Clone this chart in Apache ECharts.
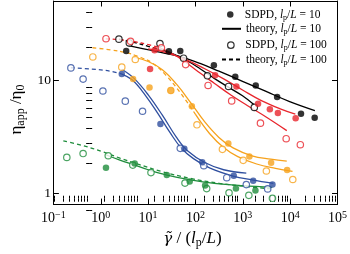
<!DOCTYPE html>
<html><head><meta charset="utf-8">
<script src="https://cdn.jsdelivr.net/npm/echarts@6/dist/echarts.min.js"></script>
<style>html,body{margin:0;padding:0;background:#fff}#c{width:350px;height:254px}</style>
</head><body><div id="c"></div>
<script>
const FONT = '"Liberation Serif","Times New Roman",serif';
const COLORS = {black:'#000000', red:'#e8262d', orange:'#f6a21d', blue:'#2f4f9f', green:'#1f8d3c'};

// SDPD, lp/L = 10 (filled circles) [shear rate, eta_app/eta_0]
const blackFilled  = [[3.45,18.05],[27.5,17.94],[47.8,18.05],[245,13.5],[693,10.7],[1875,8.96],[5311,7.07],[16950,5.04],[32960,4.64]];
const redFilled    = [[11.0,12.5],[13.7,18.3],[260,11.0],[733,8.78],[2100,6.17],[3730,5.53],[5510,5.12],[13060,4.59]];
const orangeFilled = [[4.82,10.2],[10.7,8.61],[30.2,8.09],[84,5.88],[495,2.75],[1378,2.11],[3963,1.855],[8636,1.60]];
const blueFilled   = [[2.78,11.3],[18.2,4.08],[58.2,2.47],[139,1.88],[644,1.425],[1656,1.29],[4227,1.19]];
const greenFilled  = [[1.29,1.68],[5.21,1.83],[24.8,1.445],[75.5,1.27],[160,1.17],[716,1.097],[1849,1.055]];

// SDPD, lp/L = 100 (open circles)
const blackOpen  = [[2.42,23.0],[4.01,21.3],[17.8,21.0],[56.1,15.6],[179,10.9],[500,8.78],[1750,5.73]];
const redOpen    = [[1.29,23.2],[4.26,22.0],[19.1,19.3],[62.1,13.7],[185,8.96],[582,6.54],[2360,4.16],[8245,3.03],[16410,2.68]];
const orangeOpen = [[0.68,16.0],[2.78,13.0],[5.36,15.2],[30.2,8.09],[107.6,4.02],[371,2.44],[1019,1.95],[3148,1.57],[11370,1.32]];
const blueOpen   = [[0.234,12.8],[0.424,10.2],[1.11,8.0],[3.30,6.51],[7.63,5.30],[47.8,2.49],[150,1.75],[458,1.37],[1186,1.19],[3357,1.09]];
const greenOpen  = [[0.192,2.07],[0.424,2.24],[1.44,2.14],[4.75,1.77],[11.5,1.52],[60.1,1.227],[172.6,1.097],[512,1.008],[1341,0.956],[4227,0.90]];

// theory, lp/L = 10 (solid)
const blackTheory10  = [[3.66,20.3],[9.16,18.66],[22.9,17.25],[50.0,16.04],[125.2,14.03],[313,11.98],[986,9.75],[3105,7.93],[9772,6.45],[33270,5.37]];
const redTheory10    = [[10.05,18.85],[25.1,17.42],[62.9,15.18],[157.5,12.59],[394,10.24],[986,8.17],[2469,6.58],[6178,5.56],[12870,4.99]];
const orangeTheory10 = [[5.05,15.85],[10.05,14.59],[20.0,12.35],[39.8,9.19],[79.1,6.32],[157.5,4.26],[313,3.11],[623,2.51],[1561,2.14],[3905,2.00],[8480,1.92]];
const blueTheory10   = [[2.78,12.46],[5.05,10.34],[10.05,7.40],[20.0,4.89],[39.8,3.11],[68.9,2.36],[157.5,1.866],[394,1.61],[1185,1.503]];
const greenTheory10  = [[1.275,2.185],[2.537,1.96],[5.05,1.776],[10.05,1.61],[25.1,1.445],[79.1,1.31],[249,1.222],[986,1.164],[4183,1.125]];

// theory, lp/L = 100 (dashed part, then solid part)
const blackTheory100Dash   = [[2.42,22.95],[5.05,21.5],[10.05,19.87],[15.9,18.85]];
const blackTheory100Solid  = [[15.9,18.85],[31.6,17.25],[62.9,15.03],[125.2,12.59],[249,10.34],[495,8.66],[986,7.26],[1710,6.08]];
const redTheory100Dash     = [[1.275,23.17],[2.537,22.72],[5.05,21.85],[10.05,20.59],[15.9,19.60]];
const redTheory100Solid    = [[15.9,19.60],[31.6,17.25],[62.9,14.31],[125.2,11.52],[249,9.37],[569,7.33],[1241,5.96],[3105,4.71],[8480,3.57]];
const orangeTheory100Dash  = [[0.671,19.30],[1.604,18.48],[3.19,17.6],[6.35,16.1],[12.64,14.03],[25.1,10.75],[50.0,7.55],[99.5,4.99]];
const orangeTheory100Solid = [[99.5,4.99],[198,3.37],[394,2.53],[784,2.10],[1963,1.81],[4912,1.658],[11220,1.56]];
const blueTheory100Dash    = [[0.2335,12.84],[0.641,12.51],[1.604,11.98],[2.78,11.30]];
const blueTheory100Solid   = [[2.78,11.30],[4.61,10.04],[8.75,7.33],[15.9,5.09],[28.9,3.44],[50.0,2.51],[90.8,2.02],[198,1.675],[623,1.417],[1561,1.31],[4420,1.218]];
const greenTheory100Dash   = [[0.162,2.894],[0.405,2.645],[1.163,2.30],[2.537,2.04],[6.35,1.794],[20.0,1.548],[79.1,1.349],[313,1.222],[1241,1.141],[4090,1.09]];
const greenTheory100Solid  = [];

// axis ranges and tick values
const xRange = [0.1, 100000];
const yRange = [0.8, 50];
const xMinorTicks = [0.2,0.3,0.4,0.5,0.6,0.7,0.8,0.9, 2,3,4,5,6,7,8,9, 20,30,40,50,60,70,80,90,
  200,300,400,500,600,700,800,900, 2000,3000,4000,5000,6000,7000,8000,9000,
  20000,30000,40000,50000,60000,70000,80000,90000];
const yMinorTicks = [0.8,0.9, 2,3,4,5,6,7,8,9, 20,30,40];

const legendNames = ['SDPD10','theory10','SDPD100','theory100'];
const legendLabels = {
  SDPD10:   '{r|SDPD, }{i|l}{s|p}{r|/}{i|L}{r| = 10}',
  theory10: '{r|theory, }{i|l}{s|p}{r|/}{i|L}{r| = 10}',
  SDPD100:  '{r|SDPD, }{i|l}{s|p}{r|/}{i|L}{r| = 100}',
  theory100:'{r|theory, }{i|l}{s|p}{r|/}{i|L}{r| = 100}'
};

const groups = [
  ['black', blackFilled, blackOpen, blackTheory10, blackTheory100Dash, blackTheory100Solid],
  ['red', redFilled, redOpen, redTheory10, redTheory100Dash, redTheory100Solid],
  ['orange', orangeFilled, orangeOpen, orangeTheory10, orangeTheory100Dash, orangeTheory100Solid],
  ['blue', blueFilled, blueOpen, blueTheory10, blueTheory100Dash, blueTheory100Solid],
  ['green', greenFilled, greenOpen, greenTheory10, greenTheory100Dash, greenTheory100Solid]
];

const LW = 1.3;
const DASH = [4, 3];
function lineSeries(name, data, color, dashed) {
  return {type:'line', name, data, xAxisIndex:0, yAxisIndex:0, symbol:'none', showSymbol:false,
    smooth:0.4, silent:true, z:2,
    lineStyle:{color, width:LW, type: dashed ? DASH : 'solid'}, itemStyle:{color}};
}
function scatterSeries(name, data, color, filled) {
  return {type:'scatter', name, data, xAxisIndex:0, yAxisIndex:0, symbol:'circle', symbolSize: filled ? 6.5 : 6.4,
    silent:true, z:3,
    itemStyle: filled ? {color, borderWidth:0} : {color:'#ffffff', borderColor:color, borderWidth:1.2}};
}

const series = [];
groups.forEach(g => {
  const c = COLORS[g[0]];
  series.push(lineSeries(g[0]+'-t100d', g[4], c, true));
  if (g[5].length) series.push(lineSeries(g[0]+'-t100s', g[5], c, false));
  series.push(lineSeries(g[0]+'-t10', g[3], c, false));
  series.push(scatterSeries(g[0]+'-open', g[2], c, false));
  series.push(scatterSeries(g[0]+'-filled', g[1], c, true));
});
// legend-only series (no data)
series.push(scatterSeries('SDPD10', [], '#000', true));
series.push(lineSeries('theory10', [], '#000', false));
series.push(scatterSeries('SDPD100', [], '#000', false));
series.push(lineSeries('theory100', [], '#000', true));

const isPow10 = v => Math.abs(Math.log10(v) - Math.round(Math.log10(v))) < 1e-6;
const axisLineStyle = {color:'#000', width:1};

const legendRich = {
  r:{fontFamily:FONT, fontSize:11.5, color:'#000', lineHeight:14},
  i:{fontFamily:FONT, fontSize:11.5, fontStyle:'italic', color:'#000', lineHeight:14},
  s:{fontFamily:FONT, fontSize:8, color:'#000', lineHeight:8, verticalAlign:'bottom'}
};
const legendTops = [8.5, 22.8, 39.2, 53.5];
const legendLefts = [227, 221, 227, 221];
const legendItemStyles = [
  {color:'#000', borderWidth:0},
  {opacity:0},
  {color:'#ffffff', borderColor:'#000', borderWidth:1.2},
  {opacity:0}
];

const option = {
  animation:false,
  backgroundColor:'#fff',
  grid:[{left:39, right:10, top:1, bottom:44}, {left:39, right:10, top:1, bottom:44}],
  legend: legendNames.map((n, i) => ({
    data:[n], left:legendLefts[i], top:legendTops[i], padding:0, itemGap:0, selectedMode:false,
    itemWidth:19, itemHeight: (i % 2 === 0) ? 6.5 : 10,
    itemStyle: legendItemStyles[i],
    formatter: name => legendLabels[name],
    textStyle:{fontFamily:FONT, fontSize:11.5, color:'#000', rich:legendRich}
  })),
  xAxis:[
    {type:'log', logBase:10, gridIndex:0, min:xRange[0], max:xRange[1], position:'bottom',
     axisLine:{show:true, lineStyle:axisLineStyle}, splitLine:{show:false},
     axisTick:{show:true, inside:true, length:5.5, lineStyle:axisLineStyle},
     axisLabel:{margin:6, formatter: v => {
        if (!isPow10(v)) return '';
        const e = Math.round(Math.log10(v));
        return '{b|10}{s|' + (e < 0 ? '\u2212' + (-e) : e) + '}';
      },
      rich:{b:{fontFamily:FONT, fontSize:14, color:'#000', lineHeight:17},
            s:{fontFamily:FONT, fontSize:10, color:'#000', lineHeight:9, verticalAlign:'top'}}},
     name:'{g|\u03b3\u0303}{r| / (}{i|l}{s|p}{r|/}{i|L}{r|)}', nameLocation:'middle', nameGap:20,
     nameTextStyle:{padding:[0,6,0,0], rich:{
       g:{fontFamily:'"DejaVu Serif",serif', fontSize:15, fontStyle:'italic', color:'#000', lineHeight:20},
       r:{fontFamily:FONT, fontSize:17, color:'#000', lineHeight:20},
       i:{fontFamily:FONT, fontSize:17, fontStyle:'italic', color:'#000', lineHeight:20},
       s:{fontFamily:FONT, fontSize:12, color:'#000', lineHeight:10, verticalAlign:'bottom'}}}},
    {type:'log', logBase:10, gridIndex:0, min:xRange[0], max:xRange[1], position:'top',
     axisLine:{show:true, lineStyle:axisLineStyle}, splitLine:{show:false},
     axisTick:{show:true, inside:true, length:5.5, lineStyle:axisLineStyle}, axisLabel:{show:false}},
    {type:'value', gridIndex:1, min:Math.log10(xRange[0]), max:Math.log10(xRange[1]), position:'bottom',
     axisLine:{show:false}, splitLine:{show:false}, axisLabel:{show:false},
     axisTick:{show:true, inside:true, length:3, lineStyle:axisLineStyle, customValues:xMinorTicks.map(Math.log10)}},
    {type:'value', gridIndex:1, min:Math.log10(xRange[0]), max:Math.log10(xRange[1]), position:'top',
     axisLine:{show:false}, splitLine:{show:false}, axisLabel:{show:false},
     axisTick:{show:true, inside:true, length:3, lineStyle:axisLineStyle, customValues:xMinorTicks.map(Math.log10)}}
  ],
  yAxis:[
    {type:'log', logBase:10, gridIndex:0, min:yRange[0], max:yRange[1], position:'left',
     axisLine:{show:true, lineStyle:axisLineStyle}, splitLine:{show:false},
     axisTick:{show:true, inside:true, length:5.5, lineStyle:axisLineStyle},
     axisLabel:{margin:2.5, fontFamily:FONT, fontSize:13.5, color:'#000',
       formatter: v => isPow10(v) ? String(Math.round(v)) : ''},
     name:'{e|\u03b7}{s|app}{e| /\u03b7}{s|0}', nameLocation:'middle', nameGap:19, nameRotate:90,
     nameTextStyle:{padding:[0,14,0,0], rich:{
       e:{fontFamily:FONT, fontSize:17, color:'#000', lineHeight:20},
       s:{fontFamily:FONT, fontSize:12, color:'#000', lineHeight:10, verticalAlign:'bottom'}}}},
    {type:'log', logBase:10, gridIndex:0, min:yRange[0], max:yRange[1], position:'right',
     axisLine:{show:true, lineStyle:axisLineStyle}, splitLine:{show:false},
     axisTick:{show:true, inside:true, length:5.5, lineStyle:axisLineStyle}, axisLabel:{show:false}},
    {type:'value', gridIndex:1, min:Math.log10(yRange[0]), max:Math.log10(yRange[1]), position:'left',
     axisLine:{show:false}, splitLine:{show:false}, axisLabel:{show:false},
     axisTick:{show:true, inside:true, length:3, lineStyle:axisLineStyle, customValues:yMinorTicks.map(Math.log10)}},
    {type:'value', gridIndex:1, min:Math.log10(yRange[0]), max:Math.log10(yRange[1]), position:'right',
     axisLine:{show:false}, splitLine:{show:false}, axisLabel:{show:false},
     axisTick:{show:true, inside:true, length:3, lineStyle:axisLineStyle, customValues:yMinorTicks.map(Math.log10)}}
  ],
  series
};

const chart = echarts.init(document.getElementById('c'), null, {renderer:'canvas'});
chart.setOption(option);
</script>
</body></html>
